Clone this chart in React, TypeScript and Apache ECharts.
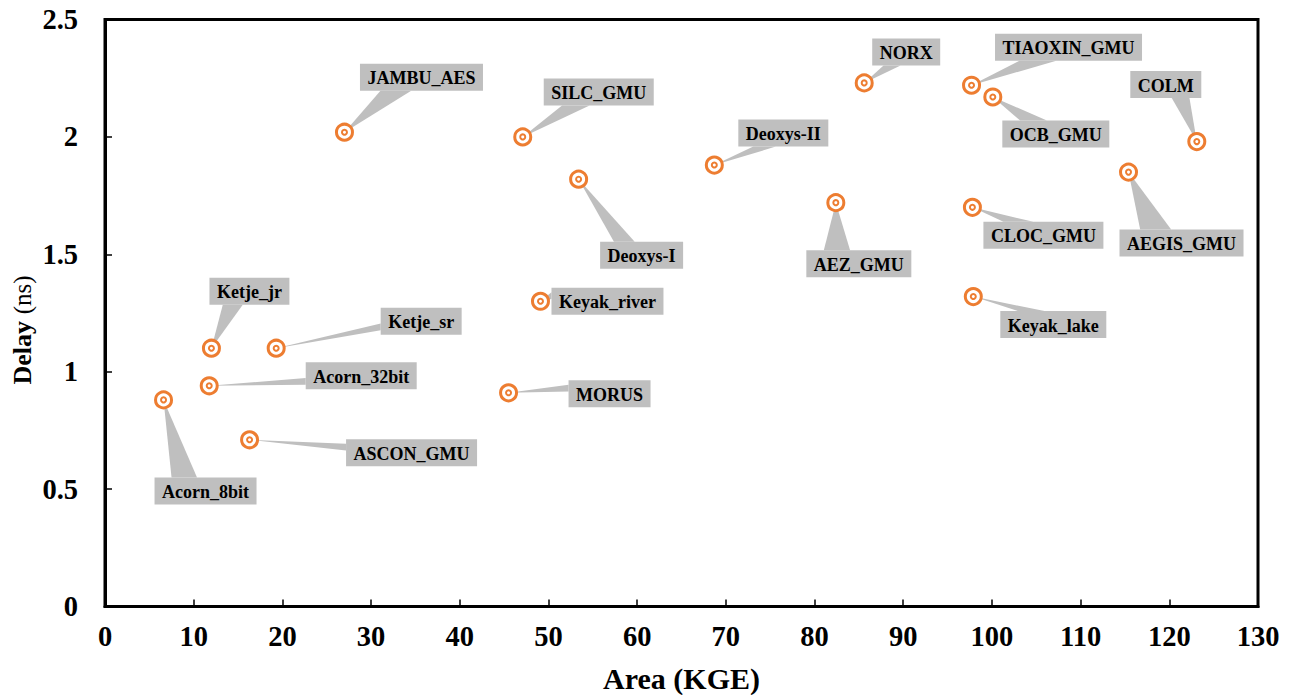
import React, { useEffect, useRef } from 'react';
import * as echarts from 'echarts';

// ---- Data ----
const designNames = [
  'Acorn_8bit', 'Ketje_jr', 'Acorn_32bit', 'Ketje_sr', 'ASCON_GMU',
  'JAMBU_AES', 'SILC_GMU', 'Deoxys-I', 'Keyak_river', 'MORUS',
  'Deoxys-II', 'AEZ_GMU', 'NORX', 'TIAOXIN_GMU', 'OCB_GMU',
  'COLM', 'CLOC_GMU', 'Keyak_lake', 'AEGIS_GMU',
];
const areaKGE = [
  6.6, 12.0, 11.75, 19.3, 16.3,
  27.0, 47.1, 53.4, 49.1, 45.5,
  68.7, 82.4, 85.6, 97.7, 100.1,
  123.1, 97.8, 97.9, 115.4,
];
const delayNs = [
  0.88, 1.10, 0.94, 1.10, 0.71,
  2.02, 2.00, 1.82, 1.30, 0.91,
  1.88, 1.72, 2.23, 2.22, 2.17,
  1.98, 1.70, 1.32, 1.85,
];
const xTicks = { min: 0, max: 130, interval: 10 };
const yTicks = { min: 0, max: 2.5, interval: 0.5 };

// ---- Layout (callout box centre offset from the point, in pixels) ----
const labelOffsets: [number, number][] = [
  [42, 91], [38, -57], [152, -10], [145, -27], [162, 13],
  [77, -55], [76, -45], [63, 76], [67, 0], [101, 1],
  [69, -32], [23, 61], [42, -31], [97, -38], [63, 37],
  [-31, -57], [71, 28], [80, 28], [53, 71],
];

const FONT_FAMILY = '"Liberation Serif", "Times New Roman", Times, serif';
const LABEL_SIZE = 18;
const LABEL_FONT = `bold ${LABEL_SIZE}px ${FONT_FAMILY}`;
const ORANGE = '#ED7D31';
const CALLOUT_GRAY = '#BFBFBF';
const PAD_X = 7.5;
const BOX_H = 27;

let measureCtx: CanvasRenderingContext2D | null = null;
function textWidth(t: string): number {
  if (!measureCtx) {
    const c = document.createElement('canvas');
    measureCtx = c.getContext('2d');
  }
  if (!measureCtx) return t.length * 9;
  measureCtx.font = LABEL_FONT;
  return measureCtx.measureText(t).width;
}

function renderCallout(params: any, api: any) {
  const i = params.dataIndex;
  const pt = api.coord([api.value(0), api.value(1)]);
  const px = pt[0];
  const py = pt[1];
  const [ox, oy] = labelOffsets[i];
  const cx = px + ox;
  const cy = py + oy;
  const text = designNames[i];
  const w = textWidth(text) + PAD_X * 2;
  const h = BOX_H;
  const left = cx - w / 2;
  const top = cy - h / 2;
  // Office-style wedgeRectCallout geometry
  const dx = (px - cx) * h;
  const dy = (py - cy) * w;
  let b1: number[];
  let b2: number[];
  if (Math.abs(dx) > Math.abs(dy)) {
    const sx = dx > 0 ? left + w : left;
    const g1 = dy > 0 ? 7 : 2;
    const g2 = dy > 0 ? 10 : 5;
    b1 = [sx, top + (h * g1) / 12];
    b2 = [sx, top + (h * g2) / 12];
  } else {
    const sy = dy > 0 ? top + h : top;
    const g1 = dx > 0 ? 7 : 2;
    const g2 = dx > 0 ? 10 : 5;
    b1 = [left + (w * g1) / 12, sy];
    b2 = [left + (w * g2) / 12, sy];
  }
  return {
    type: 'group',
    children: [
      {
        type: 'polygon',
        shape: { points: [b1, [px, py], b2] },
        style: { fill: CALLOUT_GRAY, stroke: 'none' },
      },
      {
        type: 'rect',
        shape: { x: left, y: top, width: w, height: h },
        style: { fill: CALLOUT_GRAY, stroke: 'none' },
      },
      {
        type: 'text',
        style: {
          text,
          x: cx,
          y: cy + 1,
          align: 'center',
          verticalAlign: 'middle',
          fontFamily: FONT_FAMILY,
          fontSize: LABEL_SIZE,
          fontWeight: 'bold',
          fill: '#000',
        },
      },
    ],
  };
}

export default function App() {
  const ref = useRef<HTMLDivElement>(null);

  useEffect(() => {
    if (!ref.current) return;
    const chart = echarts.init(ref.current, undefined, { renderer: 'svg' });
    const points = areaKGE.map((x, i) => [x, delayNs[i], i]);
    const axisLabelStyle = {
      color: '#000',
      fontFamily: FONT_FAMILY,
      fontWeight: 'bold' as const,
      fontSize: 28.5,
    };
    chart.setOption({
      animation: false,
      backgroundColor: '#fff',
      grid: {
        left: 105,
        top: 19.5,
        right: 34,
        bottom: 88.5,
        containLabel: false,
        outerBoundsMode: 'none',
        show: true,
        borderColor: '#000',
        borderWidth: 3,
        backgroundColor: 'transparent',
      },
      graphic: [
        {
          type: 'text',
          x: 22,
          y: 330,
          rotation: Math.PI / 2,
          silent: true,
          style: {
            text: '{b|Delay}  {n|(ns)}',
            align: 'center',
            verticalAlign: 'middle',
            fill: '#000',
            rich: {
              b: { fontFamily: FONT_FAMILY, fontSize: 26, fontWeight: 'bold', fill: '#000', color: '#000' },
              n: { fontFamily: FONT_FAMILY, fontSize: 25, fontWeight: 'normal', fill: '#000', color: '#000' },
            },
          },
        },
      ],
      xAxis: {
        type: 'value',
        min: xTicks.min,
        max: xTicks.max,
        interval: xTicks.interval,
        name: 'Area (KGE)',
        nameLocation: 'middle',
        nameGap: 57,
        nameTextStyle: { ...axisLabelStyle, fontSize: 30 },
        axisLine: { show: true, onZero: false, lineStyle: { color: '#000', width: 3 } },
        axisTick: { show: true, inside: true, length: 7, lineStyle: { color: '#000', width: 1.5 } },
        splitLine: { show: false },
        axisLabel: { ...axisLabelStyle, margin: 15 },
      },
      yAxis: {
        type: 'value',
        min: yTicks.min,
        max: yTicks.max,
        interval: yTicks.interval,
        axisLine: { show: true, onZero: false, lineStyle: { color: '#000', width: 3 } },
        axisTick: { show: true, inside: true, length: 7, lineStyle: { color: '#000', width: 1.5 } },
        splitLine: { show: false },
        axisLabel: { ...axisLabelStyle, margin: 27 },
      },
      series: [
        {
          type: 'custom',
          name: 'callouts',
          data: points,
          encode: { x: 0, y: 1 },
          renderItem: renderCallout,
          z: 1,
          silent: true,
        },
        {
          type: 'scatter',
          name: 'outer',
          data: points,
          symbol: 'circle',
          symbolSize: 16,
          itemStyle: { color: '#fff', borderColor: ORANGE, borderWidth: 3, opacity: 1 },
          z: 3,
          silent: true,
        },
        {
          type: 'scatter',
          name: 'inner',
          data: points,
          symbol: 'circle',
          symbolSize: 5,
          itemStyle: { color: '#fff', borderColor: ORANGE, borderWidth: 2, opacity: 1 },
          z: 4,
          silent: true,
        },
      ],
    });
    return () => chart.dispose();
  }, []);

  return (
    <div
      ref={ref}
      style={{ position: 'fixed', left: 0, top: 0, width: 1292, height: 695, background: '#fff' }}
    />
  );
}
